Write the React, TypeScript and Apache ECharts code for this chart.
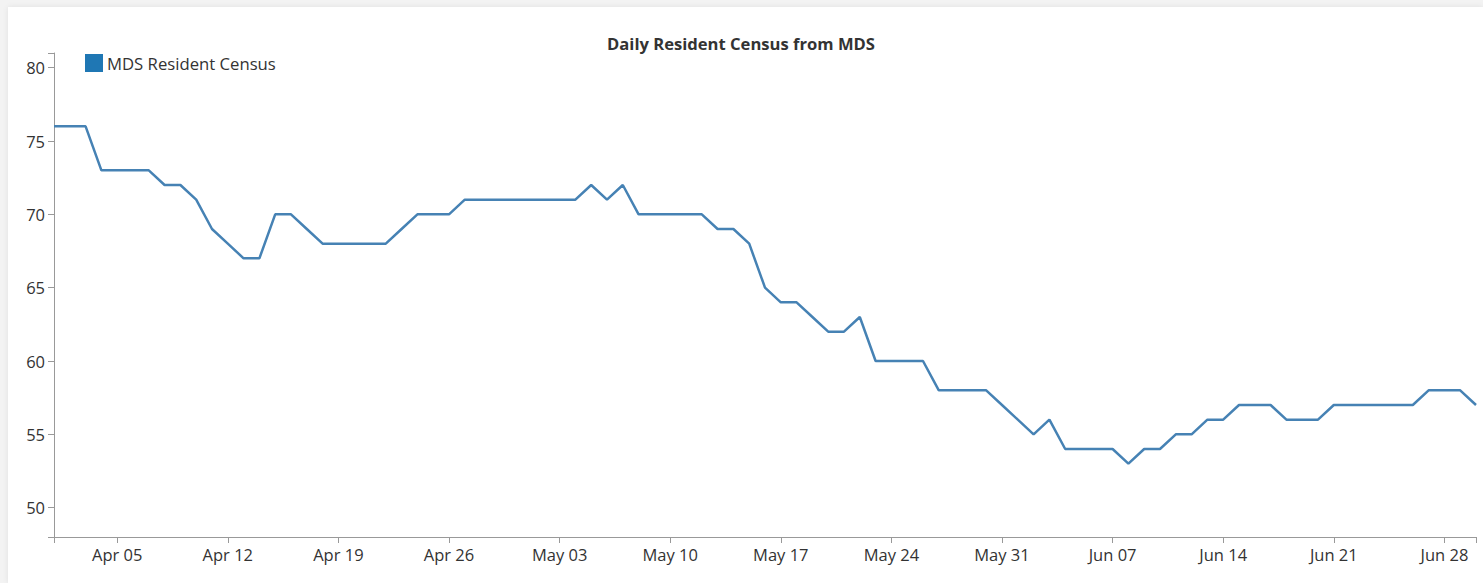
import React, { useEffect, useRef } from "react";
import * as echarts from "echarts";

const TITLE = "Daily Resident Census from MDS";
const SERIES_NAME = "MDS Resident Census";
const START_DATE = "2020-04-01";
const DAY_COUNT = 91;
const MONTHS = ["Jan", "Feb", "Mar", "Apr", "May", "Jun", "Jul", "Aug", "Sep", "Oct", "Nov", "Dec"];

const census = [
  76, 76, 76, 73, 73, 73, 73, 72, 72, 71,
  69, 68, 67, 67, 70, 70, 69, 68, 68, 68,
  68, 68, 69, 70, 70, 70, 71, 71, 71, 71,
  71, 71, 71, 71, 72, 71, 72, 70, 70, 70,
  70, 70, 69, 69, 68, 65, 64, 64, 63, 62,
  62, 63, 60, 60, 60, 60, 58, 58, 58, 58,
  57, 56, 55, 56, 54, 54, 54, 54, 53, 54,
  54, 55, 55, 56, 56, 57, 57, 57, 56, 56,
  56, 57, 57, 57, 57, 57, 57, 58, 58, 58,
  57,
];

const yLabelValues = [50, 55, 60, 65, 70, 75, 80];
const yTickValues = [48, 50, 55, 60, 65, 70, 75, 80, 81];
const Y_MIN = 48;
const Y_MAX = 81;

function buildDates(): string[] {
  const out: string[] = [];
  const base = new Date(START_DATE + "T12:00:00Z");
  for (let i = 0; i < DAY_COUNT; i++) {
    const d = new Date(base.getTime() + i * 86400000);
    const day = String(d.getUTCDate()).padStart(2, "0");
    out.push(MONTHS[d.getUTCMonth()] + " " + day);
  }
  return out;
}

const dates = buildDates();

export default function App() {
  const ref = useRef<HTMLDivElement>(null);

  useEffect(() => {
    if (!ref.current) return;
    const chart = echarts.init(ref.current, undefined, { renderer: "svg" });
    const font = "'Open Sans', sans-serif";
    const axisColor = "#999";
    const textColor = "#333";
    const isLabel = (i: number) => (i - 4) % 7 === 0 && i >= 4;

    chart.setOption({
      animation: false,
      backgroundColor: "#ffffff",
      textStyle: { fontFamily: font },
      grid: { left: 46, right: 7, top: 46, bottom: 46, containLabel: false },
      legend: {
        left: 77,
        top: 47,
        padding: 0,
        itemWidth: 18,
        itemHeight: 18,
        selectedMode: false,
        textStyle: { fontFamily: font, fontSize: 16.7, color: textColor, padding: [0, 0, 0, -1] },
        data: [
          {
            name: SERIES_NAME,
            icon: "rect",
            itemStyle: { color: "#1f77b4", borderWidth: 0 },
          },
        ],
      },
      graphic: [
        {
          type: "text",
          x: 733,
          y: 36,
          style: {
            text: TITLE,
            textAlign: "center",
            textVerticalAlign: "middle",
            font: "bold 16.6px 'Open Sans', sans-serif",
            fill: textColor,
          },
        },
      ],
      xAxis: {
        type: "category",
        data: dates,
        boundaryGap: false,
        axisLine: { show: true, lineStyle: { color: axisColor, width: 1 } },
        axisTick: {
          show: true,
          length: 6,
          interval: (i: number) => i === 0 || i === DAY_COUNT - 1 || isLabel(i),
          lineStyle: { color: axisColor },
        },
        axisLabel: {
          show: true,
          interval: (i: number) => isLabel(i),
          margin: 9,
          fontFamily: font,
          fontSize: 16.5,
          color: textColor,
        },
        splitLine: { show: false },
      },
      yAxis: {
        type: "value",
        min: Y_MIN,
        max: Y_MAX,
        axisLine: { show: true, lineStyle: { color: axisColor, width: 1 } },
        axisTick: {
          show: true,
          length: 6,
          customValues: yTickValues,
          lineStyle: { color: axisColor },
        },
        axisLabel: {
          show: true,
          customValues: yLabelValues,
          margin: 9,
          fontFamily: font,
          fontSize: 16.5,
          color: textColor,
        },
        splitLine: { show: false },
      },
      series: [
        {
          name: SERIES_NAME,
          type: "line",
          data: census,
          symbol: "none",
          smooth: false,
          itemStyle: { color: "#4682b4" },
          lineStyle: { color: "#4682b4", width: 2.5 },
        },
      ],
    });

    return () => chart.dispose();
  }, []);

  return (
    <div
      style={{
        position: "fixed",
        left: 0,
        top: 0,
        width: 1483,
        height: 583,
        background: "#f3f3f3",
        overflow: "hidden",
      }}
    >
      <div
        ref={ref}
        style={{
          position: "absolute",
          left: 8,
          top: 7,
          width: 1475,
          height: 576,
          background: "#fff",
          boxShadow: "0 0 6px rgba(0,0,0,0.08)",
        }}
      />
    </div>
  );
}
